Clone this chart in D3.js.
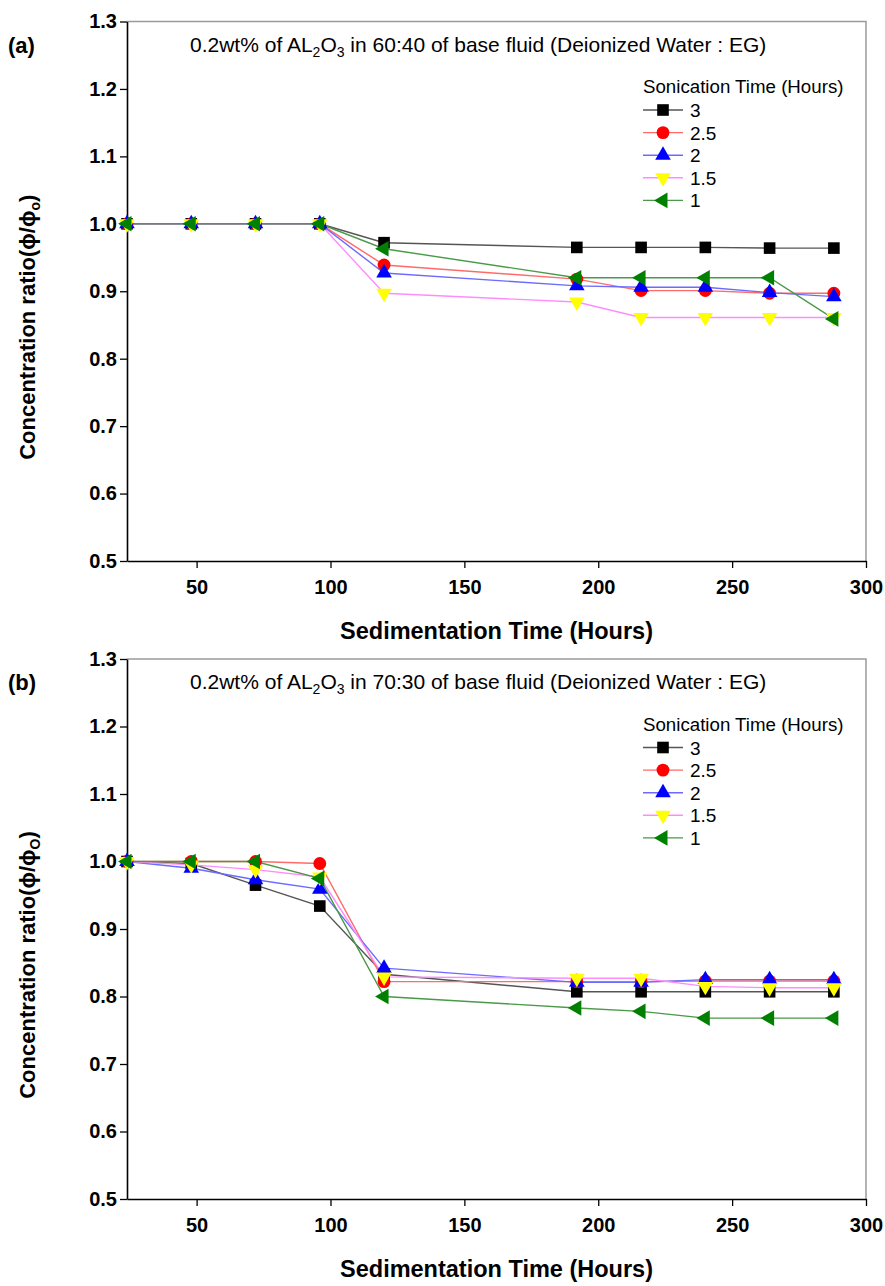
<!DOCTYPE html>
<html>
<head>
<meta charset="utf-8">
<script src="https://cdn.jsdelivr.net/npm/d3@7"></script>
<style>
  body { margin: 0; background: #fff; }
  svg { display: block; }
  text { font-family: "Liberation Sans", Arial, Helvetica, sans-serif; fill: #000; }
</style>
</head>
<body>
<div id="chart"></div>
<script>
(function () {
  // data
  const hours = [24, 48, 72, 96, 120, 192, 216, 240, 264, 288];
  const sonication = ["3", "2.5", "2", "1.5", "1"];

  // (a) 60:40
  const a3 = [1.0, 1.0, 1.0, 1.0, 0.972, 0.965, 0.965, 0.965, 0.964, 0.964];
  const a25 = [1.0, 1.0, 1.0, 1.0, 0.939, 0.918, 0.901, 0.901, 0.897, 0.897];
  const a2 = [1.0, 1.0, 1.0, 1.0, 0.927, 0.908, 0.906, 0.906, 0.898, 0.892];
  const a15 = [1.0, 1.0, 1.0, 1.0, 0.897, 0.884, 0.861, 0.861, 0.861, 0.861];
  const a1 = [1.0, 1.0, 1.0, 1.0, 0.963, 0.920, 0.920, 0.920, 0.920, 0.859];

  // (b) 70:30
  const b3 = [1.0, 0.997, 0.965, 0.934, 0.833, 0.807, 0.807, 0.807, 0.807, 0.807];
  const b25 = [1.0, 1.0, 1.0, 0.997, 0.822, 0.822, 0.822, 0.823, 0.823, 0.823];
  const b2 = [1.0, 0.990, 0.973, 0.959, 0.842, 0.821, 0.821, 0.825, 0.825, 0.825];
  const b15 = [1.0, 0.995, 0.988, 0.977, 0.829, 0.827, 0.827, 0.815, 0.813, 0.813];
  const b1 = [1.0, 1.0, 1.0, 0.975, 0.800, 0.783, 0.778, 0.768, 0.768, 0.768];

  const xMajor = [50, 100, 150, 200, 250, 300];
  const xMinor = [25, 75, 125, 175, 225, 275];
  const yMajor = [0.5, 0.6, 0.7, 0.8, 0.9, 1.0, 1.1, 1.2, 1.3];
  const yMinor = [0.55, 0.65, 0.75, 0.85, 0.95, 1.05, 1.15, 1.25];

  const fills = ["#000000", "#ff0000", "#0000ff", "#ffff00", "#008000"];
  const lineColors = ["#555555", "#ff6b6b", "#6b6bff", "#ff8cff", "#4a9a4a"];
  const shapes = [
    { type: d3.symbolSquare, size: 135, rot: 0 },
    { type: d3.symbolCircle, size: 130, rot: 0 },
    { type: d3.symbolTriangle, size: 105, rot: 0 },
    { type: d3.symbolTriangle, size: 105, rot: 180 },
    { type: d3.symbolTriangle, size: 105, rot: -90 }
  ];

  const W = 885, H = 1286;
  const svg = d3.select("#chart").append("svg").attr("width", W).attr("height", H);

  const left = 127, right = 866;

  function drawPanel(top, bottom, series, letter, mix, subO) {
    const g = svg.append("g");
    const x = d3.scaleLinear().domain([24, 300]).range([left, right]);
    const y = d3.scaleLinear().domain([0.5, 1.3]).range([bottom, top]);

    // frame (top + right, grey)
    g.append("path")
      .attr("d", `M${left},${top}H${right}V${bottom}`)
      .attr("fill", "none")
      .attr("stroke", "#9a9a9a")
      .attr("stroke-width", 1.5);

    // x axis
    const xa = g.append("g").attr("transform", `translate(0,${bottom})`);
    xa.call(d3.axisBottom(x).tickValues(xMinor).tickSize(4).tickSizeOuter(0).tickFormat(""));
    xa.call(d3.axisBottom(x).tickValues(xMajor).tickSize(7).tickSizeOuter(0).tickPadding(12));
    xa.selectAll("path.domain").attr("stroke", "#000").attr("stroke-width", 1.6);
    xa.selectAll("line").attr("stroke", "#000").attr("stroke-width", 1.3);
    xa.selectAll("text")
      .attr("font-size", 20)
      .attr("font-weight", "bold")
      .attr("font-family", '"Liberation Sans", Arial, sans-serif');

    // y axis
    const ya = g.append("g").attr("transform", `translate(${left},0)`);
    ya.call(d3.axisLeft(y).tickValues(yMinor).tickSize(4).tickSizeOuter(0).tickFormat(""));
    ya.call(d3.axisLeft(y).tickValues(yMajor).tickSize(7).tickSizeOuter(0).tickPadding(3).tickFormat(d3.format(".1f")));
    ya.selectAll("path.domain").attr("stroke", "#000").attr("stroke-width", 1.6);
    ya.selectAll("line").attr("stroke", "#000").attr("stroke-width", 1.3);
    ya.selectAll("text")
      .attr("font-size", 20)
      .attr("font-weight", "bold")
      .attr("font-family", '"Liberation Sans", Arial, sans-serif');

    // axis titles
    g.append("text")
      .attr("x", (left + right) / 2)
      .attr("y", bottom + 78)
      .attr("text-anchor", "middle")
      .attr("font-size", 23.5)
      .attr("font-weight", "bold")
      .text("Sedimentation Time (Hours)");

    const yt = g.append("text")
      .attr("transform", `translate(27,${(top + bottom) / 2 + 36}) rotate(-90)`)
      .attr("text-anchor", "middle")
      .attr("dy", "0.35em")
      .attr("font-size", 22)
      .attr("font-weight", "bold");
    yt.append("tspan").text("Concentration ratio(\u03D5/\u03D5");
    yt.append("tspan").attr("font-size", 14).attr("dy", 5).text(subO);
    yt.append("tspan").attr("dy", -5).text(")");

    // panel letter
    g.append("text")
      .attr("x", 8)
      .attr("y", top + 31)
      .attr("font-size", 22)
      .attr("font-weight", "bold")
      .text(`(${letter})`);

    // subtitle
    const st = g.append("text")
      .attr("x", 190)
      .attr("y", top + 30)
      .attr("font-size", 21);
    st.append("tspan").text("0.2wt% of AL");
    st.append("tspan").attr("font-size", 14).attr("dy", 5).text("2");
    st.append("tspan").attr("dy", -5).text("O");
    st.append("tspan").attr("font-size", 14).attr("dy", 5).text("3");
    st.append("tspan").attr("dy", -5).text(` in ${mix} of base fluid (Deionized Water : EG)`);

    // lines + markers
    const line = d3.line().x((d, i) => x(hours[i])).y(d => y(d));
    series.forEach((vals, k) => {
      g.append("path")
        .datum(vals)
        .attr("d", line)
        .attr("fill", "none")
        .attr("stroke", lineColors[k])
        .attr("stroke-width", 1.4);
    });
    series.forEach((vals, k) => {
      const sym = d3.symbol().type(shapes[k].type).size(shapes[k].size);
      g.append("g").selectAll("path")
        .data(vals)
        .join("path")
        .attr("d", sym)
        .attr("transform", (d, i) => `translate(${x(hours[i])},${y(d)}) rotate(${shapes[k].rot})`)
        .attr("fill", fills[k]);
    });

    // legend
    const lx = 643;
    g.append("text")
      .attr("x", lx)
      .attr("y", top + 71.5)
      .attr("font-size", 18.7)
      .attr("fill", "#222")
      .text("Sonication Time (Hours)");
    sonication.forEach((name, k) => {
      const cy = top + 88.5 + k * 22.6;
      g.append("line")
        .attr("x1", lx).attr("x2", lx + 40)
        .attr("y1", cy).attr("y2", cy)
        .attr("stroke", lineColors[k])
        .attr("stroke-width", 1.4);
      const sym = d3.symbol().type(shapes[k].type).size(shapes[k].size);
      g.append("path")
        .attr("d", sym)
        .attr("transform", `translate(${lx + 20},${cy}) rotate(${shapes[k].rot})`)
        .attr("fill", fills[k]);
      g.append("text")
        .attr("x", lx + 47)
        .attr("y", cy + 7)
        .attr("font-size", 19)
        .attr("fill", "#222")
        .text(name);
    });
  }

  drawPanel(21.5, 561, [a3, a25, a2, a15, a1], "a", "60:40", "o");
  drawPanel(659, 1199, [b3, b25, b2, b15, b1], "b", "70:30", "O");
})();
</script>
</body>
</html>
